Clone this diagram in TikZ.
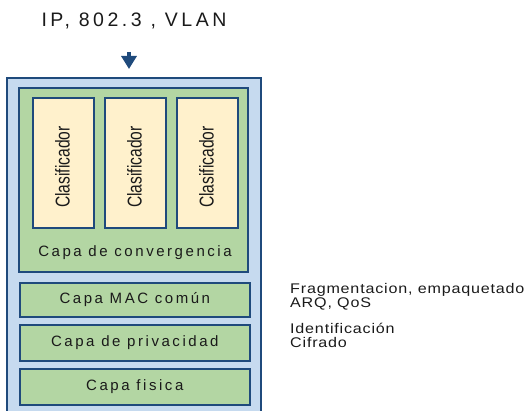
\documentclass[tikz,border=0pt]{standalone}
\usepackage{fontspec}
\usepackage{graphicx}
\setmainfont{Liberation Sans}
\newfontfamily\titlefont[LetterSpace=18]{Liberation Sans}
\newfontfamily\layerfont[LetterSpace=17]{Liberation Sans}
\newfontfamily\notefont[LetterSpace=5]{Liberation Sans}
\usetikzlibrary{arrows.meta}
\definecolor{navy}{HTML}{1F4A7C}
\definecolor{outerblue}{HTML}{C6DAEF}
\definecolor{layergreen}{HTML}{B3D6A3}
\definecolor{clasyellow}{HTML}{FFF1CC}
\definecolor{txt}{HTML}{1A1A1A}
\tikzset{
  box/.style={draw=navy, line width=1.6pt},
  outerbox/.style={box, fill=outerblue},
  greenbox/.style={box, fill=layergreen},
  clasbox/.style={box, fill=clasyellow, minimum width=61pt, minimum height=130pt, anchor=north west, inner sep=0pt},
  layerlabel/.style={font=\layerfont\fontsize{15}{17}\selectfont, text=txt},
  claslabel/.style={font=\fontsize{20}{22}\selectfont, text=txt, rotate=90},
  notelabel/.style={font=\notefont\fontsize{14}{16}\selectfont, text=txt, anchor=base west, inner sep=0pt},
}
\begin{document}
\begin{tikzpicture}[x=1pt,y=-1pt]
\useasboundingbox (0,0) rectangle (528,411);
\begin{scope}
\clip (0,0) rectangle (528,411);
\draw[outerbox] (7,78) rectangle (261,420);
\end{scope}
\draw[greenbox] (19,88) rectangle (248,272);
\node[clasbox] (c1) at (32,97) {};
\node[clasbox] (c2) at (104,97) {};
\node[clasbox] (c3) at (176,97) {};
\node[claslabel] (t1) at (62.5,167) {\scalebox{0.78}[1]{Clasificador}};
\node[claslabel] (t2) at (134.5,167) {\scalebox{0.78}[1]{Clasificador}};
\node[claslabel] (t3) at (206.5,167) {\scalebox{0.78}[1]{Clasificador}};
\node[layerlabel] (conv) at (135,253) {Capa de convergencia};
\node[greenbox, minimum width=230pt, minimum height=34pt, anchor=north west, inner sep=0pt] (mac) at (19,282) {};
\node[layerlabel] at (mac.center) {Capa MAC común};
\node[greenbox, minimum width=230pt, minimum height=36pt, anchor=north west, inner sep=0pt] (priv) at (19,324) {};
\node[layerlabel] at (priv.center) {Capa de privacidad};
\node[greenbox, minimum width=230pt, minimum height=36pt, anchor=north west, inner sep=0pt] (fis) at (19,368) {};
\node[layerlabel] at (fis.center) {Capa fisica};
\node[font=\titlefont\fontsize{19.5}{21}\selectfont, text=txt] (title) at (134,21) {IP, 802.3 , VLAN};
\coordinate (a1) at (129,52);
\coordinate (a2) at (129,69);
\draw[navy, line width=3.5pt, -{Triangle[width=15pt,length=13pt]}] (a1) -- (a2);
\node[notelabel] (n1) at (290,294) {\scalebox{1.15}[1]{Fragmentacion, empaquetado}};
\node[notelabel] (n2) at (290,308) {\scalebox{1.15}[1]{ARQ, QoS}};
\node[notelabel] (n3) at (290,334) {\scalebox{1.15}[1]{Identificación}};
\node[notelabel] (n4) at (290,348) {\scalebox{1.15}[1]{Cifrado}};
\end{tikzpicture}
\end{document}
